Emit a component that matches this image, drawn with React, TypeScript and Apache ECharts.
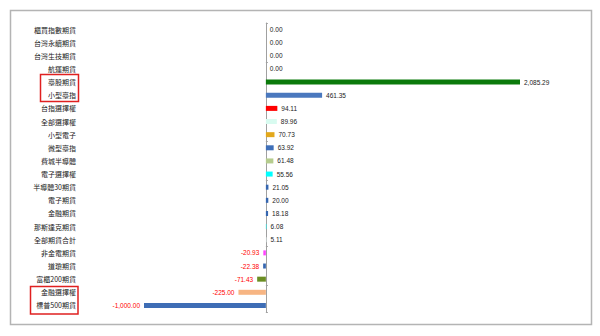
import React, { useEffect, useRef } from "react";
import * as echarts from "echarts";

const categories = [
  "櫃買指數期貨", "台灣永續期貨", "台灣生技期貨", "航運期貨", "臺股期貨", "小型臺指",
  "台指選擇權", "全部選擇權", "小型電子", "微型臺指", "費城半導體", "電子選擇權",
  "半導體30期貨", "電子期貨", "金融期貨", "那斯達克期貨", "全部期貨合計", "非金電期貨",
  "道瓊期貨", "富櫃200期貨", "金融選擇權", "標普500期貨",
];
const values = [
  0, 0, 0, 0, 2085.29, 461.35,
  94.11, 89.96, 70.73, 63.92, 61.48, 55.56,
  21.05, 20.0, 18.18, 6.08, 5.11, -20.93,
  -22.38, -71.43, -225.0, -1000.0,
];
const barColors = [
  "#3E6DB5", "#3E6DB5", "#3E6DB5", "#3E6DB5", "#0B7A0B", "#4A78BE",
  "#FF0000", "#D8FBF0", "#E3A81B", "#3F6FB8", "#B5CC8E", "#00FFFF",
  "#3566B0", "#3566B0", "#3566B0", "#3EE3E3", "#E4F1F1", "#FF44FF",
  "#3566B0", "#6B8E23", "#F7B583", "#3E6DB5",
];
const tickRows = [0, 3, 9, 12, 17, 20];

const fmt = (v: number) =>
  v.toLocaleString("en-US", { minimumFractionDigits: 2, maximumFractionDigits: 2 });

export default function App() {
  const ref = useRef<HTMLDivElement>(null);
  useEffect(() => {
    if (!ref.current) return;
    const chart = echarts.init(ref.current, null, { renderer: "svg" });
    const font = '"Noto Sans CJK TC", "Noto Sans", sans-serif';
    chart.setOption({
      animation: false,
      textStyle: { fontFamily: font },
      grid: { left: 144, right: 80, top: 23, bottom: 24, containLabel: false },
      xAxis: {
        type: "value",
        min: -1000,
        max: 2085.29,
        show: false,
      },
      yAxis: [
        {
          type: "category",
          data: categories,
          inverse: true,
          axisLine: { onZero: true, lineStyle: { color: "#A0A0A0", width: 1 } },
          axisTick: {
            show: true,
            inside: true,
            length: 2,
            lineStyle: { color: "#A0A0A0" },
            interval: (i: number) => tickRows.includes(i),
          },
          axisLabel: { show: false },
          splitLine: { show: false },
        },
        {
          type: "category",
          data: categories,
          inverse: true,
          position: "left",
          offset: 68,
          axisLine: { show: false, onZero: false },
          axisTick: { show: false },
          axisLabel: {
            show: true,
            margin: 0,
            fontSize: 7,
            color: "#222",
            fontFamily: font,
            interval: 0,
          },
          splitLine: { show: false },
        },
      ],
      series: [
        {
          type: "bar",
          yAxisIndex: 0,
          barWidth: 5,
          data: values.map((v, i) => ({
            value: v,
            itemStyle: { color: barColors[i] },
            label: {
              show: true,
              position: v < 0 ? "left" : "right",
              distance: 4,
              formatter: () => fmt(v),
              fontSize: 6.5,
              color: v < 0 ? "#FF0000" : "#222",
              fontFamily: '"Liberation Sans", sans-serif',
            },
          })),
        },
      ],
      graphic: [
        {
          type: "rect",
          shape: { x: 10.5, y: 10.5, width: 581, height: 314 },
          style: { fill: "none", stroke: "#B4B4B4", lineWidth: 1.5 },
          silent: true,
        },
        {
          type: "rect",
          shape: { x: 40.5, y: 74.5, width: 38, height: 27 },
          style: { fill: "none", stroke: "#E02020", lineWidth: 1.5 },
          silent: true,
        },
        {
          type: "rect",
          shape: { x: 30.5, y: 286.5, width: 47.5, height: 27.5 },
          style: { fill: "none", stroke: "#E02020", lineWidth: 1.5 },
          silent: true,
        },
      ],
    });
    return () => chart.dispose();
  }, []);
  return <div ref={ref} style={{ width: 600, height: 336, position: "absolute", left: 0, top: 0, background: "#fff" }} />;
}
